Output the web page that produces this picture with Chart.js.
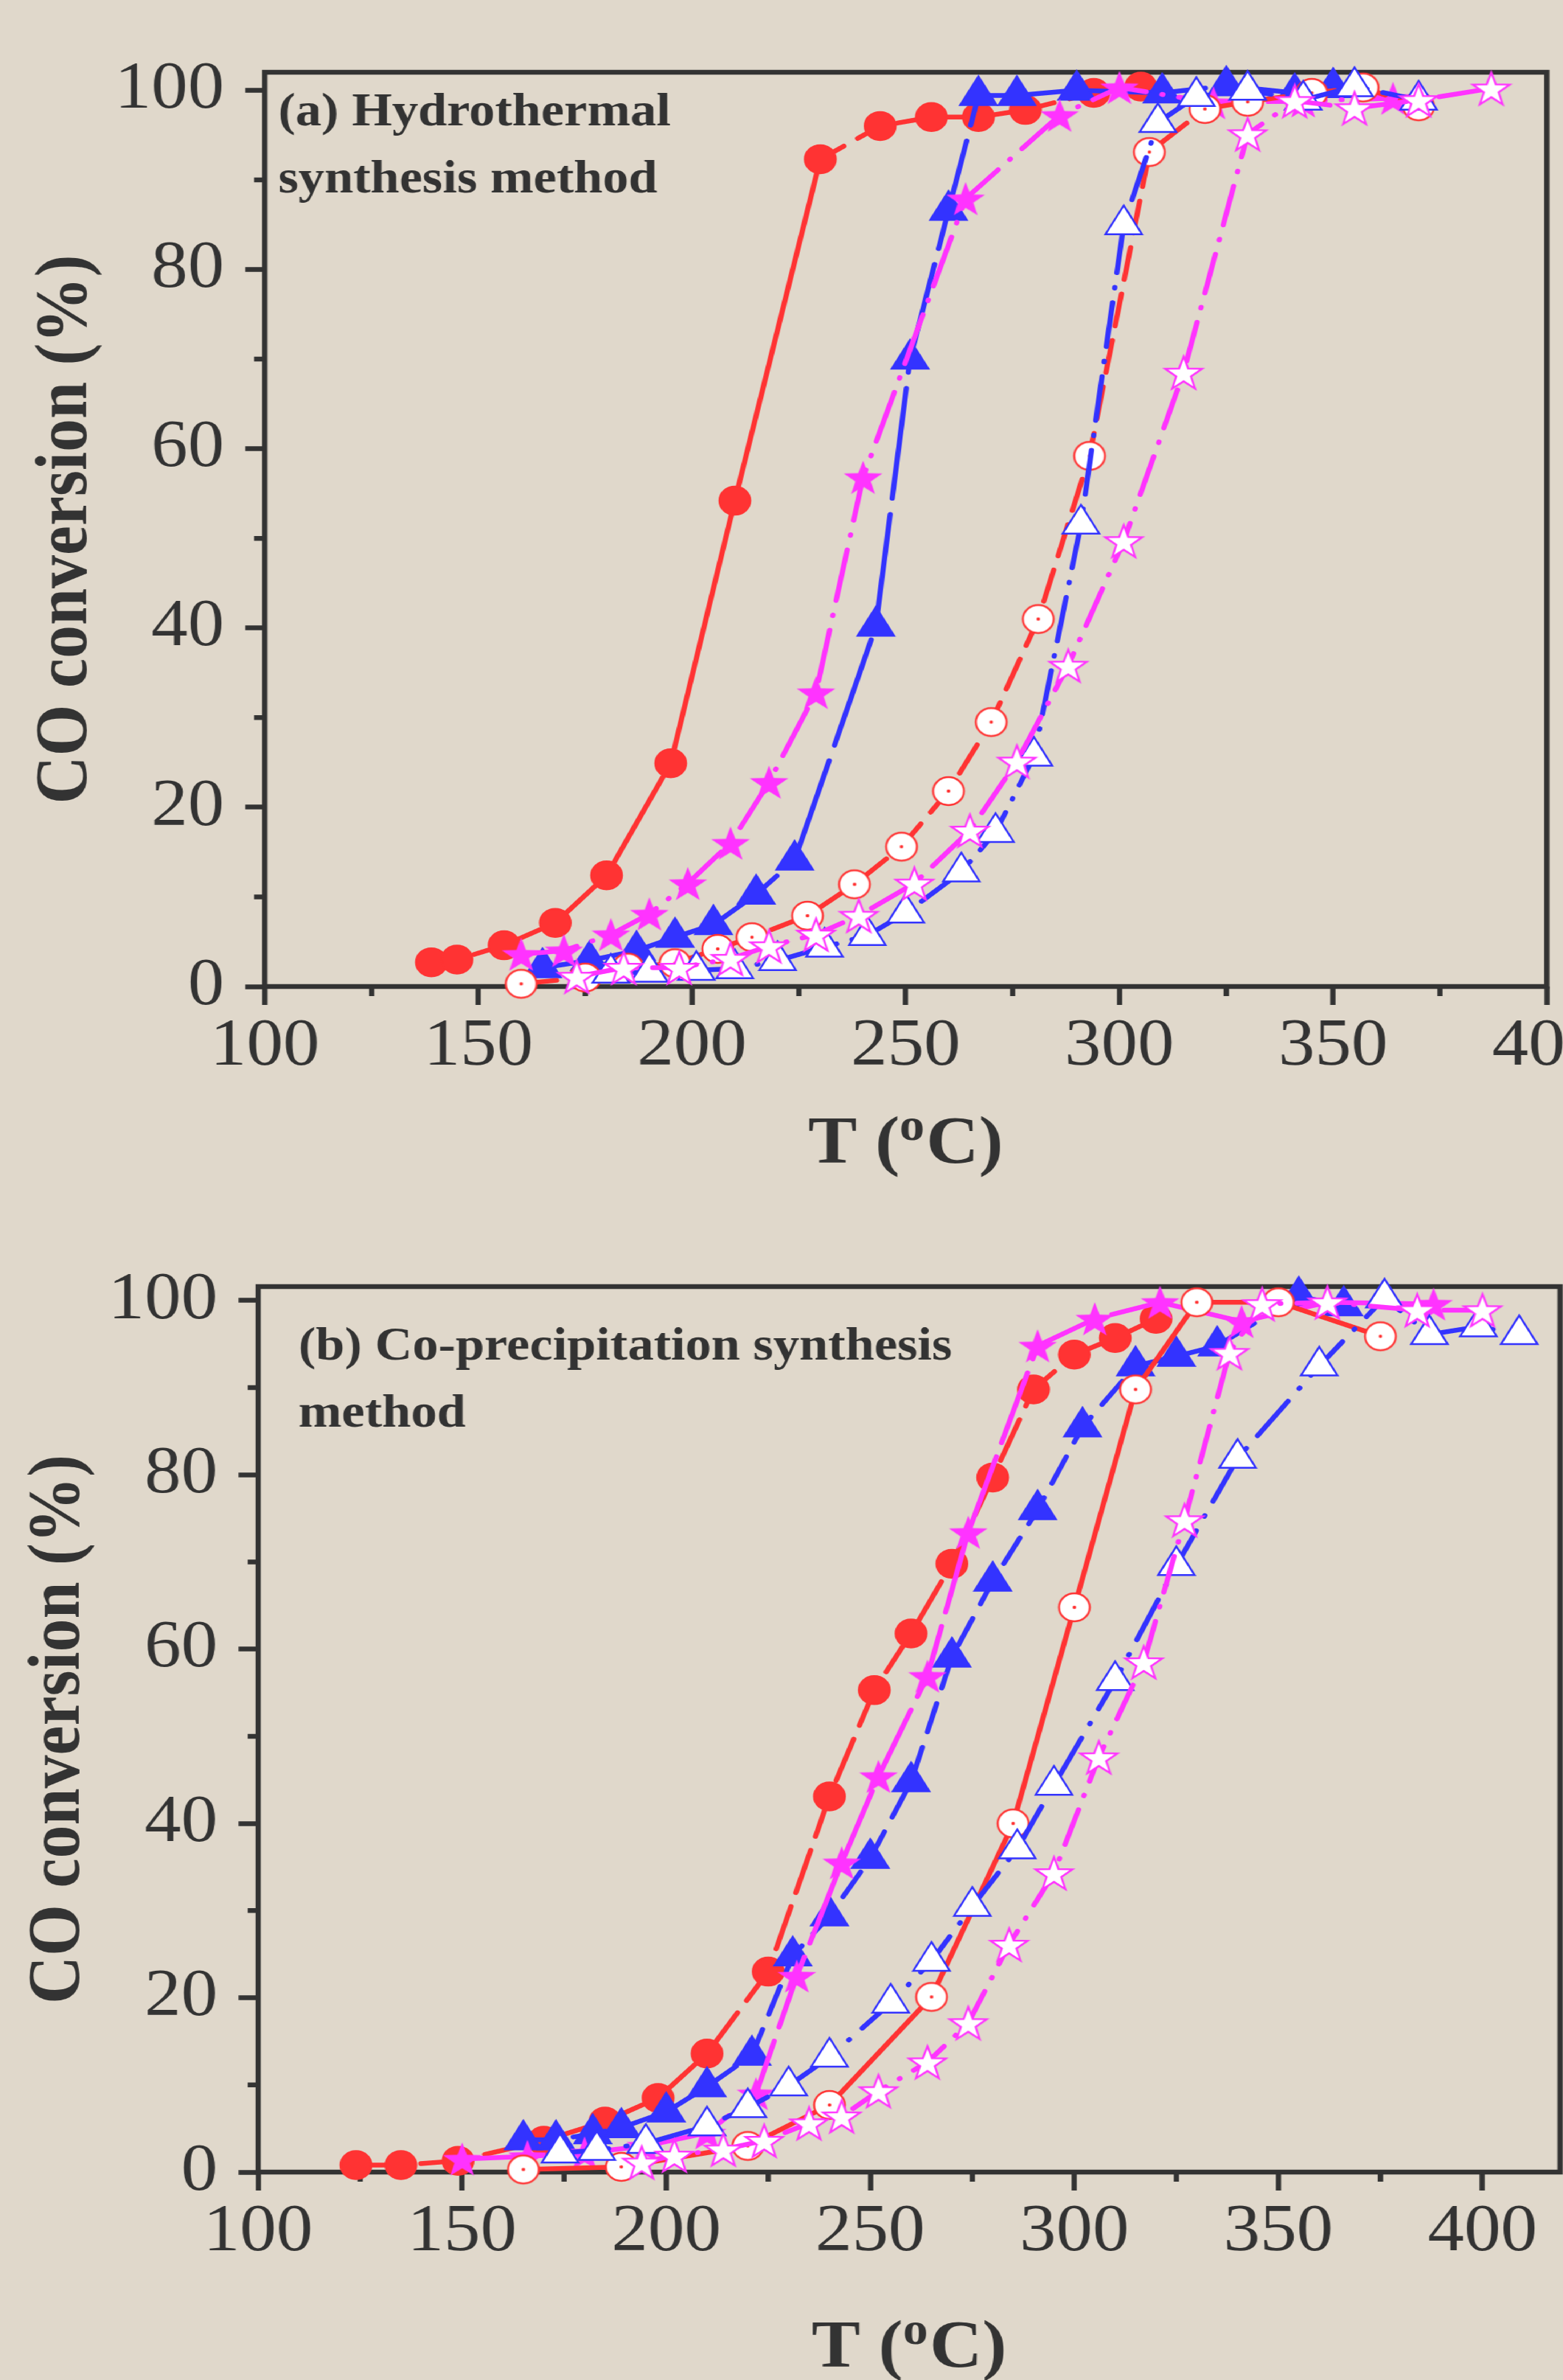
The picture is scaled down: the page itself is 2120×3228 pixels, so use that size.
<!DOCTYPE html>
<html lang="en">
<head>
<meta charset="UTF-8" />
<title>CO conversion vs T</title>
<script src="https://cdn.jsdelivr.net/npm/chart.js"></script>
<style>
    html, body {
        margin: 0;
        padding: 0;
        width: 2120px;
        height: 3228px;
        overflow: hidden;
        background: #e0d8cb;
    }

    /* the source figure is stretched sideways a little, so the whole stage is too */
    #stage {
        position: absolute;
        left: 0;
        top: 0;
        width: 2000px;
        height: 3228px;
        transform: scaleX(1.1);
        transform-origin: 0 0;
    }

    #stage canvas {
        position: absolute;
        left: 0;
    }

    #chartA { top: 0; }
    #chartB { top: 1620px; }
</style>
</head>
<body>
<div id="stage">
    <canvas id="chartA" width="2000" height="1620"></canvas>
    <canvas id="chartB" width="2000" height="1608"></canvas>
</div>

<script>
    // ---- data, panel (a) hydrothermal ----
    const aRedFilledT = [139, 145, 156, 168, 180, 195, 210, 230, 244, 256, 267, 278, 294, 305];
    const aRedFilledC = [2.7, 3.0, 4.6, 7.1, 12.4, 24.9, 54.2, 92.3, 96.0, 97.0, 97.0, 97.8, 99.7, 100.4];

    const aRedOpenT = [160, 175, 185, 196, 206, 214, 227, 238, 249, 260, 270, 281, 293, 307, 320, 330, 345, 357, 370];
    const aRedOpenC = [0.3, 1.0, 2.1, 2.6, 4.2, 5.5, 7.9, 11.4, 15.6, 21.8, 29.5, 41.0, 59.2, 93.1, 97.9, 98.7, 99.7, 100.3, 98.2];

    const aBlueFilledT = [165, 176, 187, 196, 205, 215, 224, 243, 251, 260, 267, 276, 290, 310, 325, 341, 350];
    const aBlueFilledC = [2.1, 2.9, 4.0, 5.5, 6.9, 10.3, 14.1, 40.2, 70.0, 86.6, 99.4, 99.4, 100.0, 99.7, 100.5, 99.7, 100.3];

    const aBlueOpenT = [181, 190, 201, 210, 220, 231, 241, 250, 263, 271, 280, 291, 301, 309, 318, 330, 343, 355, 370];
    const aBlueOpenC = [1.5, 1.6, 1.8, 2.0, 2.9, 4.4, 5.7, 8.2, 12.8, 17.2, 25.7, 51.6, 85.0, 96.4, 99.3, 100.0, 98.9, 100.4, 98.9];

    const aMagFilledT = [160, 170, 181, 190, 199, 209, 218, 229, 240, 264, 286, 300, 322, 343, 364];
    const aMagFilledC = [3.6, 4.0, 5.8, 8.1, 11.5, 16.0, 22.8, 32.8, 56.8, 87.9, 97.2, 100.3, 98.6, 98.8, 99.1];

    const aMagOpenT = [173, 184, 197, 209, 218, 229, 239, 252, 265, 276, 288, 301, 315, 330, 341, 355, 370, 387];
    const aMagOpenC = [1.1, 2.1, 2.1, 3.1, 4.5, 5.8, 7.9, 11.5, 17.4, 25.1, 35.8, 49.7, 68.5, 95.1, 98.8, 98.0, 98.9, 100.2];

    // ---- data, panel (b) co-precipitation ----
    const bRedFilledT = [124, 135, 149, 170, 185, 198, 210, 225, 240, 251, 260, 270, 280, 290, 300, 310, 320];
    const bRedFilledC = [0.8, 0.8, 1.3, 3.6, 5.8, 8.5, 13.6, 23.0, 43.1, 55.3, 61.8, 69.8, 79.7, 89.8, 93.8, 95.7, 97.9];

    const bRedOpenT = [165, 189, 220, 240, 265, 285, 300, 315, 330, 350, 375];
    const bRedOpenC = [0.3, 0.6, 3.0, 7.7, 20.1, 40.0, 64.8, 89.8, 99.8, 99.8, 95.9];

    const bBlueFilledT = [165, 173, 182, 189, 200, 210, 221, 231, 240, 250, 260, 270, 280, 291, 302, 315, 325, 335, 355, 366];
    const bBlueFilledC = [3.7, 3.7, 4.4, 5.1, 6.9, 9.8, 13.4, 24.8, 29.4, 36.0, 44.8, 59.1, 67.8, 76.0, 85.5, 92.5, 93.6, 94.8, 100.5, 99.4];

    const bBlueOpenT = [174, 183, 195, 210, 220, 230, 240, 255, 265, 275, 286, 295, 310, 325, 340, 360, 376, 387, 399, 409];
    const bBlueOpenC = [2.2, 2.5, 3.3, 5.3, 7.4, 9.9, 13.2, 19.4, 24.2, 30.5, 37.1, 44.4, 56.4, 69.6, 81.9, 92.5, 100.3, 96.1, 97.0, 96.1];

    const bMagFilledT = [150, 166, 180, 195, 210, 222, 232, 243, 252, 264, 274, 291, 305, 321, 341, 362, 388];
    const bMagFilledC = [1.5, 1.8, 2.2, 3.0, 4.5, 9.0, 22.5, 35.5, 45.4, 56.9, 73.4, 94.8, 97.9, 99.8, 97.6, 99.8, 99.6];

    const bMagOpenT = [194, 202, 214, 224, 235, 243, 252, 264, 274, 284, 295, 306, 317, 327, 338, 346, 362, 384, 400];
    const bMagOpenC = [1.1, 1.9, 2.6, 3.6, 5.6, 6.4, 9.3, 12.6, 17.1, 26.1, 34.3, 47.6, 58.5, 74.8, 94.0, 99.6, 99.8, 98.9, 98.9];

    // ---- axis ticks and labels ----
    const yMinorTicks = [10, 30, 50, 70, 90];
    const xMinorTicks = [125, 175, 225, 275, 325, 375];
    const yTitle = 'CO conversion (%)';
    const xTitleParts = ['T (', 'o', 'C)'];
    const noteA = ['(a) Hydrothermal', 'synthesis method'];
    const noteB = ['(b) Co-precipitation synthesis', 'method'];

    const RED = '#ff3333';
    const BLUE = '#3333ff';
    const MAG = '#ff33ff';
    const INK = '#333333';
    const SERIF = '"Liberation Serif", "Times New Roman", serif';

    // marker pictures
    function starMarker(R, fill, stroke, lw) {
        const size = Math.ceil(2 * R + 2 * lw + 4);
        const c = document.createElement('canvas');
        c.width = size;
        c.height = size;
        const g = c.getContext('2d');
        const cx = size / 2, cy = size / 2 + R * 0.095;
        g.beginPath();
        for (let i = 0; i < 10; i++) {
            const r = i % 2 ? R * 0.4 : R;
            const a = -Math.PI / 2 + i * Math.PI / 5;
            g.lineTo(cx + r * Math.cos(a), cy + r * Math.sin(a));
        }
        g.closePath();
        g.fillStyle = fill;
        g.fill();
        if (stroke) {
            g.lineWidth = lw;
            g.strokeStyle = stroke;
            g.stroke();
        }
        return c;
    }

    function openCircleMarker(r, color) {
        const size = Math.ceil(2 * r + 8);
        const c = document.createElement('canvas');
        c.width = size;
        c.height = size;
        const g = c.getContext('2d');
        g.beginPath();
        g.arc(size / 2, size / 2, r, 0, Math.PI * 2);
        g.fillStyle = '#ffffff';
        g.fill();
        g.lineWidth = 2.5;
        g.strokeStyle = color;
        g.stroke();
        g.beginPath();
        g.arc(size / 2, size / 2, 2.2, 0, Math.PI * 2);
        g.fillStyle = color;
        g.fill();
        return c;
    }

    const starFilled = starMarker(25, MAG, null, 0);
    const starOpen = starMarker(24, '#ffffff', MAG, 2.5);
    const circleOpen = openCircleMarker(19, RED);

    function series(xs, ys, color, fill, point, radius, dash) {
        return {
            data: xs.map((x, i) => ({x: x, y: ys[i]})),
            showLine: true,
            borderColor: color,
            borderWidth: 6.5,
            borderDash: dash,
            borderCapStyle: 'round',
            backgroundColor: fill,
            pointStyle: point,
            pointRadius: radius,
            pointBackgroundColor: fill,
            pointBorderColor: color,
            pointBorderWidth: 2.5,
            tension: 0,
            clip: false
        };
    }

    // (a) red filled: solid through the steep part, dashed at the flat ends
    const aRedFilled = series(aRedFilledT, aRedFilledC, RED, RED, 'circle', 19, []);
    aRedFilled.segment = {
        borderDash: c => (c.p0.parsed.y > 90 || c.p1.parsed.y < 10) ? [34, 20] : undefined
    };

    // minor ticks + frame + texts
    const extras = {
        id: 'extras',
        beforeDatasetsDraw(chart) {
            const {ctx, chartArea: a} = chart;
            ctx.save();
            ctx.strokeStyle = INK;
            ctx.lineWidth = 6.5;
            ctx.strokeRect(a.left, a.top, a.right - a.left, a.bottom - a.top);
            ctx.beginPath();
            xMinorTicks.forEach(v => {
                const px = chart.scales.x.getPixelForValue(v);
                ctx.moveTo(px, a.bottom);
                ctx.lineTo(px, a.bottom + 13);
            });
            yMinorTicks.forEach(v => {
                const py = chart.scales.y.getPixelForValue(v);
                ctx.moveTo(a.left, py);
                ctx.lineTo(a.left - 13, py);
            });
            ctx.stroke();
            ctx.restore();
        },
        afterDraw(chart, args, o) {
            const {ctx, chartArea: a} = chart;
            ctx.save();
            ctx.fillStyle = INK;
            ctx.textBaseline = 'alphabetic';
            ctx.textAlign = 'left';
            ctx.font = 'bold 64px ' + SERIF;
            o.note.forEach((t, i) => ctx.fillText(t, o.noteX, o.noteY + i * 91));

            const big = 'bold 90px ' + SERIF;
            const small = 'bold 62px ' + SERIF;
            ctx.font = big;
            const w1 = ctx.measureText(xTitleParts[0]).width;
            const w3 = ctx.measureText(xTitleParts[2]).width;
            ctx.font = small;
            const w2 = ctx.measureText(xTitleParts[1]).width + 2;
            let x = (a.left + a.right) / 2 - (w1 + w2 + w3) / 2;
            ctx.font = big;
            ctx.fillText(xTitleParts[0], x, o.titleY);
            ctx.font = small;
            ctx.fillText(xTitleParts[1], x + w1, o.titleY - 31);
            ctx.font = big;
            ctx.fillText(xTitleParts[2], x + w1 + w2, o.titleY);
            ctx.restore();
        }
    };

    function makeChart(id, p, datasets) {
        const tickFont = {family: SERIF, size: 90};
        return new Chart(document.getElementById(id), {
            type: 'scatter',
            data: {datasets: datasets},
            options: {
                responsive: false,
                animation: false,
                events: [],
                layout: {
                    padding: {left: 0, top: p.top, right: 2000 - p.right, bottom: p.height - p.bottom - 260}
                },
                plugins: {
                    legend: {display: false},
                    tooltip: {enabled: false},
                    extras: {note: p.note, noteX: p.noteX, noteY: p.noteY, titleY: p.titleY}
                },
                scales: {
                    x: {
                        type: 'linear',
                        min: p.xMin,
                        max: p.xMax,
                        afterFit: s => { s.height = 260; },
                        border: {display: false},
                        grid: {drawOnChartArea: false, drawTicks: true, tickLength: 25, tickWidth: 6.5, tickColor: INK},
                        ticks: {stepSize: 50, includeBounds: false, autoSkip: false, maxRotation: 0,
                                padding: 3, color: INK, font: tickFont}
                    },
                    y: {
                        type: 'linear',
                        min: 0,
                        max: p.yMax,
                        afterFit: s => { s.width = p.left; },
                        border: {display: false},
                        grid: {drawOnChartArea: false, drawTicks: true, tickLength: 24, tickWidth: 6.5, tickColor: INK},
                        ticks: {stepSize: 20, includeBounds: false, padding: 26, color: INK, font: tickFont},
                        title: {display: true, text: yTitle, color: INK,
                                font: {family: SERIF, size: 90, weight: 'bold'},
                                padding: {top: p.yTitlePad, bottom: 0}}
                    }
                }
            },
            plugins: [extras]
        });
    }

    makeChart('chartA', {
        top: 98, bottom: 1338, left: 326.4, right: 1907.3, height: 1620,
        xMin: 100, xMax: 400, yMax: 102, yTitlePad: 29,
        note: noteA, noteX: 343, noteY: 170, titleY: 1577
    }, [
        series(aMagOpenT, aMagOpenC, MAG, '#ffffff', starOpen, 24, [54, 20, 1, 20]),
        series(aBlueOpenT, aBlueOpenC, BLUE, '#ffffff', 'triangle', 26, [60, 20, 1, 20]),
        series(aRedOpenT, aRedOpenC, RED, '#ffffff', circleOpen, 19, [44, 20]),
        series(aMagFilledT, aMagFilledC, MAG, MAG, starFilled, 25, [70, 20, 1, 20]),
        series(aBlueFilledT, aBlueFilledC, BLUE, BLUE, 'triangle', 26, [150, 22]),
        aRedFilled
    ]);

    makeChart('chartB', {
        top: 125, bottom: 1326, left: 318.2, right: 1923.6, height: 1608,
        xMin: 100, xMax: 419, yMax: 101.6, yTitlePad: 20,
        note: noteB, noteX: 368, noteY: 224, titleY: 1590
    }, [
        series(bMagOpenT, bMagOpenC, MAG, '#ffffff', starOpen, 24, [50, 20, 1, 20]),
        series(bBlueOpenT, bBlueOpenC, BLUE, '#ffffff', 'triangle', 26, [60, 22, 1, 22]),
        series(bRedOpenT, bRedOpenC, RED, '#ffffff', circleOpen, 19, []),
        series(bMagFilledT, bMagFilledC, MAG, MAG, starFilled, 25, [100, 20]),
        series(bBlueFilledT, bBlueFilledC, BLUE, BLUE, 'triangle', 26, [40, 22]),
        series(bRedFilledT, bRedFilledC, RED, RED, 'circle', 19, [60, 20])
    ]);
</script>
</body>
</html>
